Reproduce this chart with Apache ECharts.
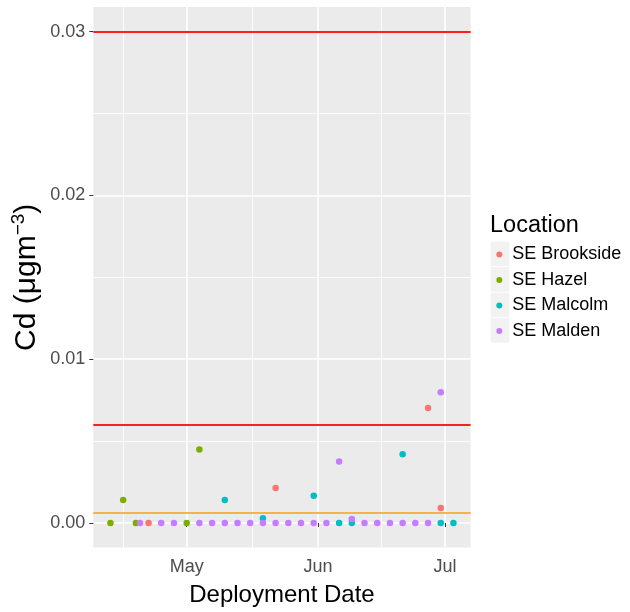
<!DOCTYPE html>
<html><head><meta charset="utf-8">
<script src="https://cdn.jsdelivr.net/npm/echarts@6/dist/echarts.min.js"></script>
<style>html,body{margin:0;padding:0;background:#fff}#c{width:630px;height:612px}</style>
</head><body><div id="c"></div><script>
// ---- data ----
const locations = ['SE Brookside', 'SE Hazel', 'SE Malcolm', 'SE Malden'];
const locationColors = ['#F8766D', '#7CAE00', '#00BFC4', '#C77CFF'];

const brooksideDates = ['2019-04-22', '2019-05-22', '2019-06-27', '2019-06-30'];
const brooksideCd = [0, 0.00214, 0.00702, 0.00092];

const hazelDates = ['2019-04-13', '2019-04-16', '2019-04-19', '2019-05-01', '2019-05-04'];
const hazelCd = [0, 0.00141, 0, 0, 0.00449];

const malcolmDates = ['2019-05-10', '2019-05-19', '2019-05-31', '2019-06-06', '2019-06-09', '2019-06-21', '2019-06-30', '2019-07-03'];
const malcolmCd = [0.00141, 0.00029, 0.00167, 0, 0, 0.00420, 0, 0];

const maldenDates = ['2019-04-20', '2019-04-25', '2019-04-28', '2019-05-04', '2019-05-07', '2019-05-10', '2019-05-13',
  '2019-05-16', '2019-05-19', '2019-05-22', '2019-05-25', '2019-05-28', '2019-05-31', '2019-06-03', '2019-06-06',
  '2019-06-09', '2019-06-12', '2019-06-15', '2019-06-18', '2019-06-21', '2019-06-24', '2019-06-27', '2019-06-30'];
const maldenCd = [0, 0, 0, 0, 0, 0, 0, 0, 0, 0, 0, 0, 0, 0, 0.00375, 0.00024, 0, 0, 0, 0, 0, 0, 0.00798];

const thresholdValues = [0.03, 0.006, 0.0006];
const thresholdColors = ['#FF1F1F', '#FF1F1F', '#F6B24E'];

const xMajorTicks = ['2019-05-01', '2019-06-01', '2019-07-01'];
const xMajorLabels = ['May', 'Jun', 'Jul'];
const xMinorTicks = ['2019-04-16T00:00', '2019-05-16T12:00', '2019-06-16T00:00'];
const yMajorTicks = [0, 0.01, 0.02, 0.03];
const yMajorLabels = ['0.00', '0.01', '0.02', '0.03'];
const yMinorTicks = [0.005, 0.015, 0.025];

// ---- helpers ----
const ts = s => Date.parse((s.length === 10 ? s + 'T00:00' : s) + ':00Z');
const seriesDates = [brooksideDates, hazelDates, malcolmDates, maldenDates];
const seriesValues = [brooksideCd, hazelCd, malcolmCd, maldenCd];
const allT = [].concat(...seriesDates).map(ts);
const tMin = Math.min(...allT), tMax = Math.max(...allT);
const xPad = (tMax - tMin) * 0.05;
const yLo = 0, yHi = Math.max(...thresholdValues);
const yPad = (yHi - yLo) * 0.05;

const SANS = '"Liberation Sans", Arial, sans-serif';

const scatterSeries = locations.map((name, i) => ({
  name, type: 'scatter', xAxisIndex: 0, yAxisIndex: 0,
  symbol: 'circle', symbolSize: 6.5,
  itemStyle: { color: locationColors[i], opacity: 1 },
  emphasis: { disabled: true },
  data: seriesDates[i].map((d, k) => [ts(d), seriesValues[i][k]]),
  z: 3
}));

// threshold lines attached to the first series
scatterSeries[0].markLine = {
  silent: true, symbol: ['none', 'none'], label: { show: false }, precision: 10,
  emphasis: { disabled: true },
  data: thresholdValues.map((v, i) => ({ yAxis: v, lineStyle: { color: thresholdColors[i], width: 2, type: 'solid' } }))
};

const keyRects = locations.map((n, i) => ({
  type: 'rect', left: 490.7, top: 241.7 + i * 25.5, z: 0,
  shape: { width: 18.6, height: 24.5 }, style: { fill: '#F2F2F2' }
}));

const chart = echarts.init(document.getElementById('c'), null, { renderer: 'canvas' });
chart.setOption({
  animation: false,
  backgroundColor: '#FFFFFF',
  title: {
    text: 'Location', left: 490, top: 213, padding: 0,
    textStyle: { fontFamily: SANS, fontSize: 23.5, fontWeight: 'normal', color: '#000000', lineHeight: 26 }
  },
  legend: {
    data: locations, orient: 'vertical', left: 496.3, top: 241.7, padding: 0, itemGap: 0,
    icon: 'circle', itemWidth: 6, itemHeight: 6, selectedMode: false,
    textStyle: { fontFamily: SANS, fontSize: 18, color: '#000000', lineHeight: 25.5, padding: [0, 0, 0, 5] }
  },
  graphic: keyRects,
  grid: {
    left: 93.3, right: 159.4, top: 7, bottom: 64.4,
    show: true, backgroundColor: '#EBEBEB', borderWidth: 0, containLabel: false,
    outerBoundsMode: 'none'
  },
  xAxis: [{
    type: 'value', min: tMin - xPad, max: tMax + xPad,
    name: 'Deployment Date', nameLocation: 'middle', nameGap: 35,
    nameTextStyle: { fontFamily: SANS, fontSize: 24, color: '#000000', lineHeight: 26 },
    axisLine: { show: false },
    axisTick: { show: true, length: 4, lineStyle: { color: '#333333', width: 1 }, customValues: xMajorTicks.map(ts) },
    axisLabel: {
      show: true, margin: 10, customValues: xMajorTicks.map(ts),
      fontFamily: SANS, fontSize: 18, color: '#4D4D4D',
      formatter: v => { const k = xMajorTicks.map(ts).indexOf(v); return k >= 0 ? xMajorLabels[k] : ''; }
    },
    splitLine: { show: true, lineStyle: { color: '#FFFFFF', width: 1.6 } }
  }, {
    type: 'value', min: tMin - xPad, max: tMax + xPad, show: true,
    axisLine: { show: false }, axisLabel: { show: false },
    axisTick: { show: false, customValues: xMinorTicks.map(ts) },
    splitLine: { show: true, lineStyle: { color: '#FFFFFF', width: 0.8 } }
  }],
  yAxis: [{
    type: 'value', min: yLo - yPad, max: yHi + yPad,
    name: '{a|Cd (μgm}{s|−3}{a|)}', nameLocation: 'middle', nameRotate: 90, nameGap: 50,
    nameMoveOverlap: false,
    nameTextStyle: {
      rich: {
        a: { fontFamily: SANS, fontSize: 30, color: '#000000', lineHeight: 34 },
        s: { fontFamily: SANS, fontSize: 19, color: '#000000', verticalAlign: 'top', lineHeight: 34 }
      }
    },
    axisLine: { show: false },
    axisTick: { show: true, length: 4, lineStyle: { color: '#333333', width: 1 }, customValues: yMajorTicks },
    axisLabel: {
      show: true, margin: 8, customValues: yMajorTicks,
      fontFamily: SANS, fontSize: 18, color: '#4D4D4D',
      formatter: v => { const k = yMajorTicks.indexOf(v); return k >= 0 ? yMajorLabels[k] : ''; }
    },
    splitLine: { show: true, lineStyle: { color: '#FFFFFF', width: 1.6 } }
  }, {
    type: 'value', min: yLo - yPad, max: yHi + yPad, show: true,
    axisLine: { show: false }, axisLabel: { show: false },
    axisTick: { show: false, customValues: yMinorTicks },
    splitLine: { show: true, lineStyle: { color: '#FFFFFF', width: 0.8 } }
  }],
  series: scatterSeries
});
</script></body></html>
